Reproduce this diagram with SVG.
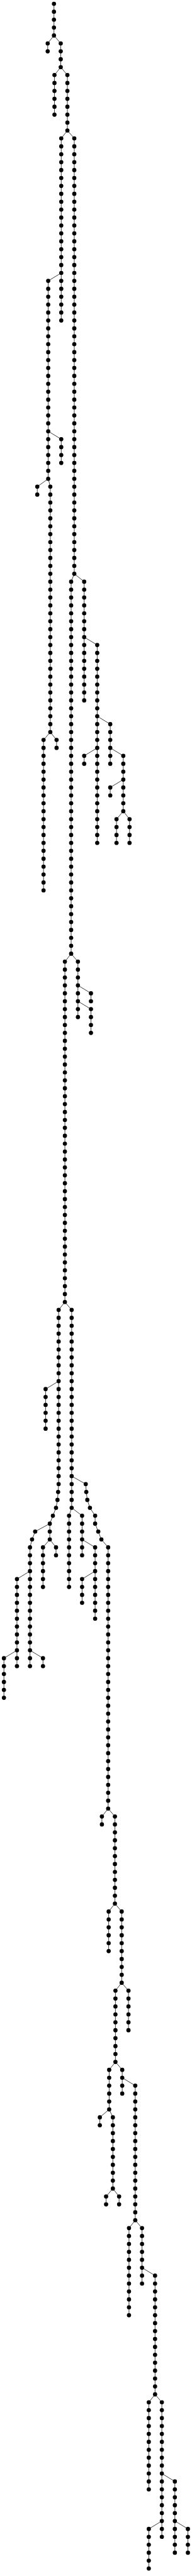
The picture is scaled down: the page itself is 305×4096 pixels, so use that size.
<svg xmlns="http://www.w3.org/2000/svg" width="305" height="4096" viewBox="0 0 305 4096">
<style>
.e path{fill:none;stroke:#111;stroke-width:1.3;stroke-linejoin:round}
.n circle{fill:#000;r:5.3px}
</style>
<rect width="305" height="4096" fill="#fff"/>
<g transform="translate(0 6.086) scale(0.62932)">
<g class="e" id="connectors">
<path d="M136.2 0V80"/>
<path d="M136.2 80L120.4 100V120"/>
<path d="M136.2 80L153.3 100V160"/>
<path d="M153.3 160L137.5 180V280"/>
<path d="M153.3 160L170.1 180V320"/>
<path d="M170.1 320L154.6 340V800"/>
<path d="M170.1 320L187.5 340V1440"/>
<path d="M154.6 680L121.7 700V1200"/>
<path d="M121.7 1080L154.6 1100V1160"/>
<path d="M121.7 1200L94.1 1220V1240"/>
<path d="M121.7 1200L127 1220V1840"/>
<path d="M127 1840L109.9 1860V2240"/>
<path d="M127 1840L142.8 1860V1880"/>
<path d="M187.5 1440L179.6 1460V2400"/>
<path d="M187.5 1440L212.5 1460V1760"/>
<path d="M212.5 1600L245.4 1620V2120"/>
<path d="M245.4 1800L278.3 1820V1920"/>
<path d="M245.4 1880L212.5 1900V1920"/>
<path d="M278.3 1880L311.2 1900V2040"/>
<path d="M311.2 1960L278.3 1980V2000"/>
<path d="M311.2 2040L294.1 2060V2120"/>
<path d="M311.2 2040L327 2060V2120"/>
<path d="M179.6 2400L163.8 2420V3280"/>
<path d="M179.6 2400L196.7 2420V2560"/>
<path d="M196.7 2480L229.6 2500V2520"/>
<path d="M196.7 2520L229.6 2540V2600"/>
<path d="M163.8 3280L148 3300V3740L146.7 3760L145.1 3780L141.4 3800L133.5 3820L125.7 3840V3880"/>
<path d="M148 3480L115.1 3500V3600"/>
<path d="M125.7 3840L88.8 3860L80.9 3880L75.7 3900V4200"/>
<path d="M125.7 3880L108.5 3900V4000"/>
<path d="M125.7 3880L141.4 3900V3920"/>
<path d="M75.7 3960L42.8 3980V4200"/>
<path d="M75.7 4160L108.5 4180V4200"/>
<path d="M42.8 4160L9.9 4180V4280"/>
<path d="M163.8 3280L180.9 3300V3800"/>
<path d="M180.9 3720L216.4 3740L217.8 3760L220.4 3780L227 3800L240.1 3820V3840L248 3860L255.9 3880L273 3900V4560"/>
<path d="M180.9 3800L174.3 3820V4000"/>
<path d="M180.9 3800L207.2 3820V3920"/>
<path d="M207.2 3880L240.1 3900V4080"/>
<path d="M240.1 3960L207.2 3980V4040"/>
<path d="M273 4560L257.2 4580V4600"/>
<path d="M273 4560L290.1 4580V4800"/>
<path d="M290.1 4800L274.3 4820V4920"/>
<path d="M290.1 4800L307.2 4820V5000"/>
<path d="M307.2 5000L291.4 5020V5200"/>
<path d="M307.2 5000L324.3 5020V5120"/>
<path d="M291.4 5200L275.6 5220V5320"/>
<path d="M291.4 5200L308.5 5220V5280"/>
<path d="M308.5 5240L341.4 5260V5600"/>
<path d="M275.6 5320L252 5340V5360"/>
<path d="M275.6 5320L284.9 5340V5520"/>
<path d="M284.9 5520L267.8 5540V5560"/>
<path d="M284.9 5520L300.6 5540V5560"/>
<path d="M341.4 5600L325.6 5620V5840"/>
<path d="M341.4 5600L358.5 5620V5760"/>
<path d="M358.5 5720L391.4 5740V6040"/>
<path d="M391.4 6040L375.6 6060V6280"/>
<path d="M391.4 6040L408.5 6060V6400"/>
<path d="M408.5 6240L441.4 6260V6440"/>
<path d="M408.5 6360L375.6 6380V6480"/>
<path d="M441.4 6360L474.3 6380V6440"/>
</g>
<g class="n" id="nodes">
<g transform="translate(136.2 0)"><g id="A_0"><circle cy="0"/></g><g id="A_1"><circle cy="20"/></g><g id="A_2"><circle cy="40"/></g><g id="A_3"><circle cy="60"/></g><g id="A_4"><circle cy="80"/></g></g>
<g transform="translate(120.4 0)"><g id="A1_5"><circle cy="100"/></g><g id="A1_6"><circle cy="120"/></g></g>
<g transform="translate(153.3 0)"><g id="A2_5"><circle cy="100"/></g><g id="A2_6"><circle cy="120"/></g><g id="A2_7"><circle cy="140"/></g><g id="A2_8"><circle cy="160"/></g></g>
<g transform="translate(137.5 0)"><g id="B1_9"><circle cy="180"/></g><g id="B1_10"><circle cy="200"/></g><g id="B1_11"><circle cy="220"/></g><g id="B1_12"><circle cy="240"/></g><g id="B1_13"><circle cy="260"/></g><g id="B1_14"><circle cy="280"/></g></g>
<g transform="translate(170.1 0)"><g id="B2_9"><circle cy="180"/></g><g id="B2_10"><circle cy="200"/></g><g id="B2_11"><circle cy="220"/></g><g id="B2_12"><circle cy="240"/></g><g id="B2_13"><circle cy="260"/></g><g id="B2_14"><circle cy="280"/></g><g id="B2_15"><circle cy="300"/></g><g id="B2_16"><circle cy="320"/></g></g>
<g transform="translate(154.6 0)"><g id="C1_17"><circle cy="340"/></g><g id="C1_18"><circle cy="360"/></g><g id="C1_19"><circle cy="380"/></g><g id="C1_20"><circle cy="400"/></g><g id="C1_21"><circle cy="420"/></g><g id="C1_22"><circle cy="440"/></g><g id="C1_23"><circle cy="460"/></g><g id="C1_24"><circle cy="480"/></g><g id="C1_25"><circle cy="500"/></g><g id="C1_26"><circle cy="520"/></g><g id="C1_27"><circle cy="540"/></g><g id="C1_28"><circle cy="560"/></g><g id="C1_29"><circle cy="580"/></g><g id="C1_30"><circle cy="600"/></g><g id="C1_31"><circle cy="620"/></g><g id="C1_32"><circle cy="640"/></g><g id="C1_33"><circle cy="660"/></g><g id="C1_34"><circle cy="680"/></g><g id="C1_35"><circle cy="700"/></g><g id="C1_36"><circle cy="720"/></g><g id="C1_37"><circle cy="740"/></g><g id="C1_38"><circle cy="760"/></g><g id="C1_39"><circle cy="780"/></g><g id="C1_40"><circle cy="800"/></g></g>
<g transform="translate(187.5 0)"><g id="C2_17"><circle cy="340"/></g><g id="C2_18"><circle cy="360"/></g><g id="C2_19"><circle cy="380"/></g><g id="C2_20"><circle cy="400"/></g><g id="C2_21"><circle cy="420"/></g><g id="C2_22"><circle cy="440"/></g><g id="C2_23"><circle cy="460"/></g><g id="C2_24"><circle cy="480"/></g><g id="C2_25"><circle cy="500"/></g><g id="C2_26"><circle cy="520"/></g><g id="C2_27"><circle cy="540"/></g><g id="C2_28"><circle cy="560"/></g><g id="C2_29"><circle cy="580"/></g><g id="C2_30"><circle cy="600"/></g><g id="C2_31"><circle cy="620"/></g><g id="C2_32"><circle cy="640"/></g><g id="C2_33"><circle cy="660"/></g><g id="C2_34"><circle cy="680"/></g><g id="C2_35"><circle cy="700"/></g><g id="C2_36"><circle cy="720"/></g><g id="C2_37"><circle cy="740"/></g><g id="C2_38"><circle cy="760"/></g><g id="C2_39"><circle cy="780"/></g><g id="C2_40"><circle cy="800"/></g><g id="C2_41"><circle cy="820"/></g><g id="C2_42"><circle cy="840"/></g><g id="C2_43"><circle cy="860"/></g><g id="C2_44"><circle cy="880"/></g><g id="C2_45"><circle cy="900"/></g><g id="C2_46"><circle cy="920"/></g><g id="C2_47"><circle cy="940"/></g><g id="C2_48"><circle cy="960"/></g><g id="C2_49"><circle cy="980"/></g><g id="C2_50"><circle cy="1000"/></g><g id="C2_51"><circle cy="1020"/></g><g id="C2_52"><circle cy="1040"/></g><g id="C2_53"><circle cy="1060"/></g><g id="C2_54"><circle cy="1080"/></g><g id="C2_55"><circle cy="1100"/></g><g id="C2_56"><circle cy="1120"/></g><g id="C2_57"><circle cy="1140"/></g><g id="C2_58"><circle cy="1160"/></g><g id="C2_59"><circle cy="1180"/></g><g id="C2_60"><circle cy="1200"/></g><g id="C2_61"><circle cy="1220"/></g><g id="C2_62"><circle cy="1240"/></g><g id="C2_63"><circle cy="1260"/></g><g id="C2_64"><circle cy="1280"/></g><g id="C2_65"><circle cy="1300"/></g><g id="C2_66"><circle cy="1320"/></g><g id="C2_67"><circle cy="1340"/></g><g id="C2_68"><circle cy="1360"/></g><g id="C2_69"><circle cy="1380"/></g><g id="C2_70"><circle cy="1400"/></g><g id="C2_71"><circle cy="1420"/></g><g id="C2_72"><circle cy="1440"/></g></g>
<g transform="translate(121.7 0)"><g id="D_35"><circle cy="700"/></g><g id="D_36"><circle cy="720"/></g><g id="D_37"><circle cy="740"/></g><g id="D_38"><circle cy="760"/></g><g id="D_39"><circle cy="780"/></g><g id="D_40"><circle cy="800"/></g><g id="D_41"><circle cy="820"/></g><g id="D_42"><circle cy="840"/></g><g id="D_43"><circle cy="860"/></g><g id="D_44"><circle cy="880"/></g><g id="D_45"><circle cy="900"/></g><g id="D_46"><circle cy="920"/></g><g id="D_47"><circle cy="940"/></g><g id="D_48"><circle cy="960"/></g><g id="D_49"><circle cy="980"/></g><g id="D_50"><circle cy="1000"/></g><g id="D_51"><circle cy="1020"/></g><g id="D_52"><circle cy="1040"/></g><g id="D_53"><circle cy="1060"/></g><g id="D_54"><circle cy="1080"/></g><g id="D_55"><circle cy="1100"/></g><g id="D_56"><circle cy="1120"/></g><g id="D_57"><circle cy="1140"/></g><g id="D_58"><circle cy="1160"/></g><g id="D_59"><circle cy="1180"/></g><g id="D_60"><circle cy="1200"/></g></g>
<g transform="translate(154.6 0)"><g id="F_55"><circle cy="1100"/></g><g id="F_56"><circle cy="1120"/></g><g id="F_57"><circle cy="1140"/></g><g id="F_58"><circle cy="1160"/></g></g>
<g transform="translate(94.1 0)"><g id="G1_61"><circle cy="1220"/></g><g id="G1_62"><circle cy="1240"/></g></g>
<g transform="translate(127 0)"><g id="G2_61"><circle cy="1220"/></g><g id="G2_62"><circle cy="1240"/></g><g id="G2_63"><circle cy="1260"/></g><g id="G2_64"><circle cy="1280"/></g><g id="G2_65"><circle cy="1300"/></g><g id="G2_66"><circle cy="1320"/></g><g id="G2_67"><circle cy="1340"/></g><g id="G2_68"><circle cy="1360"/></g><g id="G2_69"><circle cy="1380"/></g><g id="G2_70"><circle cy="1400"/></g><g id="G2_71"><circle cy="1420"/></g><g id="G2_72"><circle cy="1440"/></g><g id="G2_73"><circle cy="1460"/></g><g id="G2_74"><circle cy="1480"/></g><g id="G2_75"><circle cy="1500"/></g><g id="G2_76"><circle cy="1520"/></g><g id="G2_77"><circle cy="1540"/></g><g id="G2_78"><circle cy="1560"/></g><g id="G2_79"><circle cy="1580"/></g><g id="G2_80"><circle cy="1600"/></g><g id="G2_81"><circle cy="1620"/></g><g id="G2_82"><circle cy="1640"/></g><g id="G2_83"><circle cy="1660"/></g><g id="G2_84"><circle cy="1680"/></g><g id="G2_85"><circle cy="1700"/></g><g id="G2_86"><circle cy="1720"/></g><g id="G2_87"><circle cy="1740"/></g><g id="G2_88"><circle cy="1760"/></g><g id="G2_89"><circle cy="1780"/></g><g id="G2_90"><circle cy="1800"/></g><g id="G2_91"><circle cy="1820"/></g><g id="G2_92"><circle cy="1840"/></g></g>
<g transform="translate(109.9 0)"><g id="H1_93"><circle cy="1860"/></g><g id="H1_94"><circle cy="1880"/></g><g id="H1_95"><circle cy="1900"/></g><g id="H1_96"><circle cy="1920"/></g><g id="H1_97"><circle cy="1940"/></g><g id="H1_98"><circle cy="1960"/></g><g id="H1_99"><circle cy="1980"/></g><g id="H1_100"><circle cy="2000"/></g><g id="H1_101"><circle cy="2020"/></g><g id="H1_102"><circle cy="2040"/></g><g id="H1_103"><circle cy="2060"/></g><g id="H1_104"><circle cy="2080"/></g><g id="H1_105"><circle cy="2100"/></g><g id="H1_106"><circle cy="2120"/></g><g id="H1_107"><circle cy="2140"/></g><g id="H1_108"><circle cy="2160"/></g><g id="H1_109"><circle cy="2180"/></g><g id="H1_110"><circle cy="2200"/></g><g id="H1_111"><circle cy="2220"/></g><g id="H1_112"><circle cy="2240"/></g></g>
<g transform="translate(142.8 0)"><g id="H2_93"><circle cy="1860"/></g><g id="H2_94"><circle cy="1880"/></g></g>
<g transform="translate(179.6 0)"><g id="E1_73"><circle cy="1460"/></g><g id="E1_74"><circle cy="1480"/></g><g id="E1_75"><circle cy="1500"/></g><g id="E1_76"><circle cy="1520"/></g><g id="E1_77"><circle cy="1540"/></g><g id="E1_78"><circle cy="1560"/></g><g id="E1_79"><circle cy="1580"/></g><g id="E1_80"><circle cy="1600"/></g><g id="E1_81"><circle cy="1620"/></g><g id="E1_82"><circle cy="1640"/></g><g id="E1_83"><circle cy="1660"/></g><g id="E1_84"><circle cy="1680"/></g><g id="E1_85"><circle cy="1700"/></g><g id="E1_86"><circle cy="1720"/></g><g id="E1_87"><circle cy="1740"/></g><g id="E1_88"><circle cy="1760"/></g><g id="E1_89"><circle cy="1780"/></g><g id="E1_90"><circle cy="1800"/></g><g id="E1_91"><circle cy="1820"/></g><g id="E1_92"><circle cy="1840"/></g><g id="E1_93"><circle cy="1860"/></g><g id="E1_94"><circle cy="1880"/></g><g id="E1_95"><circle cy="1900"/></g><g id="E1_96"><circle cy="1920"/></g><g id="E1_97"><circle cy="1940"/></g><g id="E1_98"><circle cy="1960"/></g><g id="E1_99"><circle cy="1980"/></g><g id="E1_100"><circle cy="2000"/></g><g id="E1_101"><circle cy="2020"/></g><g id="E1_102"><circle cy="2040"/></g><g id="E1_103"><circle cy="2060"/></g><g id="E1_104"><circle cy="2080"/></g><g id="E1_105"><circle cy="2100"/></g><g id="E1_106"><circle cy="2120"/></g><g id="E1_107"><circle cy="2140"/></g><g id="E1_108"><circle cy="2160"/></g><g id="E1_109"><circle cy="2180"/></g><g id="E1_110"><circle cy="2200"/></g><g id="E1_111"><circle cy="2220"/></g><g id="E1_112"><circle cy="2240"/></g><g id="E1_113"><circle cy="2260"/></g><g id="E1_114"><circle cy="2280"/></g><g id="E1_115"><circle cy="2300"/></g><g id="E1_116"><circle cy="2320"/></g><g id="E1_117"><circle cy="2340"/></g><g id="E1_118"><circle cy="2360"/></g><g id="E1_119"><circle cy="2380"/></g><g id="E1_120"><circle cy="2400"/></g></g>
<g transform="translate(212.5 0)"><g id="E2_73"><circle cy="1460"/></g><g id="E2_74"><circle cy="1480"/></g><g id="E2_75"><circle cy="1500"/></g><g id="E2_76"><circle cy="1520"/></g><g id="E2_77"><circle cy="1540"/></g><g id="E2_78"><circle cy="1560"/></g><g id="E2_79"><circle cy="1580"/></g><g id="E2_80"><circle cy="1600"/></g><g id="E2_81"><circle cy="1620"/></g><g id="E2_82"><circle cy="1640"/></g><g id="E2_83"><circle cy="1660"/></g><g id="E2_84"><circle cy="1680"/></g><g id="E2_85"><circle cy="1700"/></g><g id="E2_86"><circle cy="1720"/></g><g id="E2_87"><circle cy="1740"/></g><g id="E2_88"><circle cy="1760"/></g></g>
<g transform="translate(245.4 0)"><g id="I_81"><circle cy="1620"/></g><g id="I_82"><circle cy="1640"/></g><g id="I_83"><circle cy="1660"/></g><g id="I_84"><circle cy="1680"/></g><g id="I_85"><circle cy="1700"/></g><g id="I_86"><circle cy="1720"/></g><g id="I_87"><circle cy="1740"/></g><g id="I_88"><circle cy="1760"/></g><g id="I_89"><circle cy="1780"/></g><g id="I_90"><circle cy="1800"/></g><g id="I_91"><circle cy="1820"/></g><g id="I_92"><circle cy="1840"/></g><g id="I_93"><circle cy="1860"/></g><g id="I_94"><circle cy="1880"/></g><g id="I_95"><circle cy="1900"/></g><g id="I_96"><circle cy="1920"/></g><g id="I_97"><circle cy="1940"/></g><g id="I_98"><circle cy="1960"/></g><g id="I_99"><circle cy="1980"/></g><g id="I_100"><circle cy="2000"/></g><g id="I_101"><circle cy="2020"/></g><g id="I_102"><circle cy="2040"/></g><g id="I_103"><circle cy="2060"/></g><g id="I_104"><circle cy="2080"/></g><g id="I_105"><circle cy="2100"/></g><g id="I_106"><circle cy="2120"/></g></g>
<g transform="translate(278.3 0)"><g id="J_91"><circle cy="1820"/></g><g id="J_92"><circle cy="1840"/></g><g id="J_93"><circle cy="1860"/></g><g id="J_94"><circle cy="1880"/></g><g id="J_95"><circle cy="1900"/></g><g id="J_96"><circle cy="1920"/></g><g id="M_99"><circle cy="1980"/></g><g id="M_100"><circle cy="2000"/></g></g>
<g transform="translate(212.5 0)"><g id="K_95"><circle cy="1900"/></g><g id="K_96"><circle cy="1920"/></g></g>
<g transform="translate(311.2 0)"><g id="L_95"><circle cy="1900"/></g><g id="L_96"><circle cy="1920"/></g><g id="L_97"><circle cy="1940"/></g><g id="L_98"><circle cy="1960"/></g><g id="L_99"><circle cy="1980"/></g><g id="L_100"><circle cy="2000"/></g><g id="L_101"><circle cy="2020"/></g><g id="L_102"><circle cy="2040"/></g></g>
<g transform="translate(294.1 0)"><g id="N1_103"><circle cy="2060"/></g><g id="N1_104"><circle cy="2080"/></g><g id="N1_105"><circle cy="2100"/></g><g id="N1_106"><circle cy="2120"/></g></g>
<g transform="translate(327 0)"><g id="N2_103"><circle cy="2060"/></g><g id="N2_104"><circle cy="2080"/></g><g id="N2_105"><circle cy="2100"/></g><g id="N2_106"><circle cy="2120"/></g></g>
<g transform="translate(163.8 0)"><g id="O1_121"><circle cy="2420"/></g><g id="O1_122"><circle cy="2440"/></g><g id="O1_123"><circle cy="2460"/></g><g id="O1_124"><circle cy="2480"/></g><g id="O1_125"><circle cy="2500"/></g><g id="O1_126"><circle cy="2520"/></g><g id="O1_127"><circle cy="2540"/></g><g id="O1_128"><circle cy="2560"/></g><g id="O1_129"><circle cy="2580"/></g><g id="O1_130"><circle cy="2600"/></g><g id="O1_131"><circle cy="2620"/></g><g id="O1_132"><circle cy="2640"/></g><g id="O1_133"><circle cy="2660"/></g><g id="O1_134"><circle cy="2680"/></g><g id="O1_135"><circle cy="2700"/></g><g id="O1_136"><circle cy="2720"/></g><g id="O1_137"><circle cy="2740"/></g><g id="O1_138"><circle cy="2760"/></g><g id="O1_139"><circle cy="2780"/></g><g id="O1_140"><circle cy="2800"/></g><g id="O1_141"><circle cy="2820"/></g><g id="O1_142"><circle cy="2840"/></g><g id="O1_143"><circle cy="2860"/></g><g id="O1_144"><circle cy="2880"/></g><g id="O1_145"><circle cy="2900"/></g><g id="O1_146"><circle cy="2920"/></g><g id="O1_147"><circle cy="2940"/></g><g id="O1_148"><circle cy="2960"/></g><g id="O1_149"><circle cy="2980"/></g><g id="O1_150"><circle cy="3000"/></g><g id="O1_151"><circle cy="3020"/></g><g id="O1_152"><circle cy="3040"/></g><g id="O1_153"><circle cy="3060"/></g><g id="O1_154"><circle cy="3080"/></g><g id="O1_155"><circle cy="3100"/></g><g id="O1_156"><circle cy="3120"/></g><g id="O1_157"><circle cy="3140"/></g><g id="O1_158"><circle cy="3160"/></g><g id="O1_159"><circle cy="3180"/></g><g id="O1_160"><circle cy="3200"/></g><g id="O1_161"><circle cy="3220"/></g><g id="O1_162"><circle cy="3240"/></g><g id="O1_163"><circle cy="3260"/></g><g id="O1_164"><circle cy="3280"/></g></g>
<g transform="translate(196.7 0)"><g id="O2_121"><circle cy="2420"/></g><g id="O2_122"><circle cy="2440"/></g><g id="O2_123"><circle cy="2460"/></g><g id="O2_124"><circle cy="2480"/></g><g id="O2_125"><circle cy="2500"/></g><g id="O2_126"><circle cy="2520"/></g><g id="O2_127"><circle cy="2540"/></g><g id="O2_128"><circle cy="2560"/></g></g>
<g transform="translate(229.6 0)"><g id="P_125"><circle cy="2500"/></g><g id="P_126"><circle cy="2520"/></g><g id="Q_127"><circle cy="2540"/></g><g id="Q_128"><circle cy="2560"/></g><g id="Q_129"><circle cy="2580"/></g><g id="Q_130"><circle cy="2600"/></g></g>
<g transform="translate(148 0)"><g id="R1_165"><circle cy="3300"/></g><g id="R1_166"><circle cy="3320"/></g><g id="R1_167"><circle cy="3340"/></g><g id="R1_168"><circle cy="3360"/></g><g id="R1_169"><circle cy="3380"/></g><g id="R1_170"><circle cy="3400"/></g><g id="R1_171"><circle cy="3420"/></g><g id="R1_172"><circle cy="3440"/></g><g id="R1_173"><circle cy="3460"/></g><g id="R1_174"><circle cy="3480"/></g><g id="R1_175"><circle cy="3500"/></g><g id="R1_176"><circle cy="3520"/></g><g id="R1_177"><circle cy="3540"/></g><g id="R1_178"><circle cy="3560"/></g><g id="R1_179"><circle cy="3580"/></g><g id="R1_180"><circle cy="3600"/></g><g id="R1_181"><circle cy="3620"/></g><g id="R1_182"><circle cy="3640"/></g><g id="R1_183"><circle cy="3660"/></g><g id="R1_184"><circle cy="3680"/></g><g id="R1_185"><circle cy="3700"/></g><g id="R1_186"><circle cy="3720"/></g><g id="R1_187"><circle cy="3740"/></g></g>
<g><g id="R1_188"><circle cx="146.7" cy="3760"/></g><g id="R1_189"><circle cx="145.1" cy="3780"/></g><g id="R1_190"><circle cx="141.4" cy="3800"/></g><g id="R1_191"><circle cx="133.5" cy="3820"/></g><g id="R1_192"><circle cx="125.7" cy="3840"/></g><g id="R1_193"><circle cx="125.7" cy="3860"/></g><g id="R1_194"><circle cx="125.7" cy="3880"/></g><g id="S_193"><circle cx="88.8" cy="3860"/></g><g id="S_194"><circle cx="80.9" cy="3880"/></g></g>
<g transform="translate(115.1 0)"><g id="U_175"><circle cy="3500"/></g><g id="U_176"><circle cy="3520"/></g><g id="U_177"><circle cy="3540"/></g><g id="U_178"><circle cy="3560"/></g><g id="U_179"><circle cy="3580"/></g><g id="U_180"><circle cy="3600"/></g></g>
<g transform="translate(75.7 0)"><g id="S_195"><circle cy="3900"/></g><g id="S_196"><circle cy="3920"/></g><g id="S_197"><circle cy="3940"/></g><g id="S_198"><circle cy="3960"/></g><g id="S_199"><circle cy="3980"/></g><g id="S_200"><circle cy="4000"/></g><g id="S_201"><circle cy="4020"/></g><g id="S_202"><circle cy="4040"/></g><g id="S_203"><circle cy="4060"/></g><g id="S_204"><circle cy="4080"/></g><g id="S_205"><circle cy="4100"/></g><g id="S_206"><circle cy="4120"/></g><g id="S_207"><circle cy="4140"/></g><g id="S_208"><circle cy="4160"/></g><g id="S_209"><circle cy="4180"/></g><g id="S_210"><circle cy="4200"/></g></g>
<g transform="translate(108.5 0)"><g id="T1_195"><circle cy="3900"/></g><g id="T1_196"><circle cy="3920"/></g><g id="T1_197"><circle cy="3940"/></g><g id="T1_198"><circle cy="3960"/></g><g id="T1_199"><circle cy="3980"/></g><g id="T1_200"><circle cy="4000"/></g><g id="W_209"><circle cy="4180"/></g><g id="W_210"><circle cy="4200"/></g></g>
<g transform="translate(141.4 0)"><g id="T2_195"><circle cy="3900"/></g><g id="T2_196"><circle cy="3920"/></g></g>
<g transform="translate(42.8 0)"><g id="V_199"><circle cy="3980"/></g><g id="V_200"><circle cy="4000"/></g><g id="V_201"><circle cy="4020"/></g><g id="V_202"><circle cy="4040"/></g><g id="V_203"><circle cy="4060"/></g><g id="V_204"><circle cy="4080"/></g><g id="V_205"><circle cy="4100"/></g><g id="V_206"><circle cy="4120"/></g><g id="V_207"><circle cy="4140"/></g><g id="V_208"><circle cy="4160"/></g><g id="V_209"><circle cy="4180"/></g><g id="V_210"><circle cy="4200"/></g></g>
<g transform="translate(9.9 0)"><g id="X_209"><circle cy="4180"/></g><g id="X_210"><circle cy="4200"/></g><g id="X_211"><circle cy="4220"/></g><g id="X_212"><circle cy="4240"/></g><g id="X_213"><circle cy="4260"/></g><g id="X_214"><circle cy="4280"/></g></g>
<g transform="translate(180.9 0)"><g id="R2_165"><circle cy="3300"/></g><g id="R2_166"><circle cy="3320"/></g><g id="R2_167"><circle cy="3340"/></g><g id="R2_168"><circle cy="3360"/></g><g id="R2_169"><circle cy="3380"/></g><g id="R2_170"><circle cy="3400"/></g><g id="R2_171"><circle cy="3420"/></g><g id="R2_172"><circle cy="3440"/></g><g id="R2_173"><circle cy="3460"/></g><g id="R2_174"><circle cy="3480"/></g><g id="R2_175"><circle cy="3500"/></g><g id="R2_176"><circle cy="3520"/></g><g id="R2_177"><circle cy="3540"/></g><g id="R2_178"><circle cy="3560"/></g><g id="R2_179"><circle cy="3580"/></g><g id="R2_180"><circle cy="3600"/></g><g id="R2_181"><circle cy="3620"/></g><g id="R2_182"><circle cy="3640"/></g><g id="R2_183"><circle cy="3660"/></g><g id="R2_184"><circle cy="3680"/></g><g id="R2_185"><circle cy="3700"/></g><g id="R2_186"><circle cy="3720"/></g><g id="R2_187"><circle cy="3740"/></g><g id="R2_188"><circle cy="3760"/></g><g id="R2_189"><circle cy="3780"/></g><g id="R2_190"><circle cy="3800"/></g></g>
<g><g id="Y_187"><circle cx="216.4" cy="3740"/></g><g id="Y_188"><circle cx="217.8" cy="3760"/></g><g id="Y_189"><circle cx="220.4" cy="3780"/></g><g id="Y_190"><circle cx="227" cy="3800"/></g><g id="Y_191"><circle cx="240.1" cy="3820"/></g><g id="Y_192"><circle cx="240.1" cy="3840"/></g><g id="Y_193"><circle cx="248" cy="3860"/></g><g id="Y_194"><circle cx="255.9" cy="3880"/></g></g>
<g transform="translate(273 0)"><g id="Y_195"><circle cy="3900"/></g><g id="Y_196"><circle cy="3920"/></g><g id="Y_197"><circle cy="3940"/></g><g id="Y_198"><circle cy="3960"/></g><g id="Y_199"><circle cy="3980"/></g><g id="Y_200"><circle cy="4000"/></g><g id="Y_201"><circle cy="4020"/></g><g id="Y_202"><circle cy="4040"/></g><g id="Y_203"><circle cy="4060"/></g><g id="Y_204"><circle cy="4080"/></g><g id="Y_205"><circle cy="4100"/></g><g id="Y_206"><circle cy="4120"/></g><g id="Y_207"><circle cy="4140"/></g><g id="Y_208"><circle cy="4160"/></g><g id="Y_209"><circle cy="4180"/></g><g id="Y_210"><circle cy="4200"/></g><g id="Y_211"><circle cy="4220"/></g><g id="Y_212"><circle cy="4240"/></g><g id="Y_213"><circle cy="4260"/></g><g id="Y_214"><circle cy="4280"/></g><g id="Y_215"><circle cy="4300"/></g><g id="Y_216"><circle cy="4320"/></g><g id="Y_217"><circle cy="4340"/></g><g id="Y_218"><circle cy="4360"/></g><g id="Y_219"><circle cy="4380"/></g><g id="Y_220"><circle cy="4400"/></g><g id="Y_221"><circle cy="4420"/></g><g id="Y_222"><circle cy="4440"/></g><g id="Y_223"><circle cy="4460"/></g><g id="Y_224"><circle cy="4480"/></g><g id="Y_225"><circle cy="4500"/></g><g id="Y_226"><circle cy="4520"/></g><g id="Y_227"><circle cy="4540"/></g><g id="Y_228"><circle cy="4560"/></g></g>
<g transform="translate(174.3 0)"><g id="Z1_191"><circle cy="3820"/></g><g id="Z1_192"><circle cy="3840"/></g><g id="Z1_193"><circle cy="3860"/></g><g id="Z1_194"><circle cy="3880"/></g><g id="Z1_195"><circle cy="3900"/></g><g id="Z1_196"><circle cy="3920"/></g><g id="Z1_197"><circle cy="3940"/></g><g id="Z1_198"><circle cy="3960"/></g><g id="Z1_199"><circle cy="3980"/></g><g id="Z1_200"><circle cy="4000"/></g></g>
<g transform="translate(207.2 0)"><g id="Z2_191"><circle cy="3820"/></g><g id="Z2_192"><circle cy="3840"/></g><g id="Z2_193"><circle cy="3860"/></g><g id="Z2_194"><circle cy="3880"/></g><g id="Z2_195"><circle cy="3900"/></g><g id="Z2_196"><circle cy="3920"/></g><g id="AB_199"><circle cy="3980"/></g><g id="AB_200"><circle cy="4000"/></g><g id="AB_201"><circle cy="4020"/></g><g id="AB_202"><circle cy="4040"/></g></g>
<g transform="translate(240.1 0)"><g id="AA_195"><circle cy="3900"/></g><g id="AA_196"><circle cy="3920"/></g><g id="AA_197"><circle cy="3940"/></g><g id="AA_198"><circle cy="3960"/></g><g id="AA_199"><circle cy="3980"/></g><g id="AA_200"><circle cy="4000"/></g><g id="AA_201"><circle cy="4020"/></g><g id="AA_202"><circle cy="4040"/></g><g id="AA_203"><circle cy="4060"/></g><g id="AA_204"><circle cy="4080"/></g></g>
<g transform="translate(257.2 0)"><g id="AC1_229"><circle cy="4580"/></g><g id="AC1_230"><circle cy="4600"/></g></g>
<g transform="translate(290.1 0)"><g id="AC2_229"><circle cy="4580"/></g><g id="AC2_230"><circle cy="4600"/></g><g id="AC2_231"><circle cy="4620"/></g><g id="AC2_232"><circle cy="4640"/></g><g id="AC2_233"><circle cy="4660"/></g><g id="AC2_234"><circle cy="4680"/></g><g id="AC2_235"><circle cy="4700"/></g><g id="AC2_236"><circle cy="4720"/></g><g id="AC2_237"><circle cy="4740"/></g><g id="AC2_238"><circle cy="4760"/></g><g id="AC2_239"><circle cy="4780"/></g><g id="AC2_240"><circle cy="4800"/></g></g>
<g transform="translate(274.3 0)"><g id="AD1_241"><circle cy="4820"/></g><g id="AD1_242"><circle cy="4840"/></g><g id="AD1_243"><circle cy="4860"/></g><g id="AD1_244"><circle cy="4880"/></g><g id="AD1_245"><circle cy="4900"/></g><g id="AD1_246"><circle cy="4920"/></g></g>
<g transform="translate(307.2 0)"><g id="AD2_241"><circle cy="4820"/></g><g id="AD2_242"><circle cy="4840"/></g><g id="AD2_243"><circle cy="4860"/></g><g id="AD2_244"><circle cy="4880"/></g><g id="AD2_245"><circle cy="4900"/></g><g id="AD2_246"><circle cy="4920"/></g><g id="AD2_247"><circle cy="4940"/></g><g id="AD2_248"><circle cy="4960"/></g><g id="AD2_249"><circle cy="4980"/></g><g id="AD2_250"><circle cy="5000"/></g></g>
<g transform="translate(291.4 0)"><g id="AE1_251"><circle cy="5020"/></g><g id="AE1_252"><circle cy="5040"/></g><g id="AE1_253"><circle cy="5060"/></g><g id="AE1_254"><circle cy="5080"/></g><g id="AE1_255"><circle cy="5100"/></g><g id="AE1_256"><circle cy="5120"/></g><g id="AE1_257"><circle cy="5140"/></g><g id="AE1_258"><circle cy="5160"/></g><g id="AE1_259"><circle cy="5180"/></g><g id="AE1_260"><circle cy="5200"/></g></g>
<g transform="translate(324.3 0)"><g id="AE2_251"><circle cy="5020"/></g><g id="AE2_252"><circle cy="5040"/></g><g id="AE2_253"><circle cy="5060"/></g><g id="AE2_254"><circle cy="5080"/></g><g id="AE2_255"><circle cy="5100"/></g><g id="AE2_256"><circle cy="5120"/></g></g>
<g transform="translate(275.6 0)"><g id="AF1_261"><circle cy="5220"/></g><g id="AF1_262"><circle cy="5240"/></g><g id="AF1_263"><circle cy="5260"/></g><g id="AF1_264"><circle cy="5280"/></g><g id="AF1_265"><circle cy="5300"/></g><g id="AF1_266"><circle cy="5320"/></g></g>
<g transform="translate(308.5 0)"><g id="AF2_261"><circle cy="5220"/></g><g id="AF2_262"><circle cy="5240"/></g><g id="AF2_263"><circle cy="5260"/></g><g id="AF2_264"><circle cy="5280"/></g></g>
<g transform="translate(341.4 0)"><g id="AG_263"><circle cy="5260"/></g><g id="AG_264"><circle cy="5280"/></g><g id="AG_265"><circle cy="5300"/></g><g id="AG_266"><circle cy="5320"/></g><g id="AG_267"><circle cy="5340"/></g><g id="AG_268"><circle cy="5360"/></g><g id="AG_269"><circle cy="5380"/></g><g id="AG_270"><circle cy="5400"/></g><g id="AG_271"><circle cy="5420"/></g><g id="AG_272"><circle cy="5440"/></g><g id="AG_273"><circle cy="5460"/></g><g id="AG_274"><circle cy="5480"/></g><g id="AG_275"><circle cy="5500"/></g><g id="AG_276"><circle cy="5520"/></g><g id="AG_277"><circle cy="5540"/></g><g id="AG_278"><circle cy="5560"/></g><g id="AG_279"><circle cy="5580"/></g><g id="AG_280"><circle cy="5600"/></g></g>
<g transform="translate(252 0)"><g id="AH1_267"><circle cy="5340"/></g><g id="AH1_268"><circle cy="5360"/></g></g>
<g transform="translate(284.9 0)"><g id="AH2_267"><circle cy="5340"/></g><g id="AH2_268"><circle cy="5360"/></g><g id="AH2_269"><circle cy="5380"/></g><g id="AH2_270"><circle cy="5400"/></g><g id="AH2_271"><circle cy="5420"/></g><g id="AH2_272"><circle cy="5440"/></g><g id="AH2_273"><circle cy="5460"/></g><g id="AH2_274"><circle cy="5480"/></g><g id="AH2_275"><circle cy="5500"/></g><g id="AH2_276"><circle cy="5520"/></g></g>
<g transform="translate(267.8 0)"><g id="AI1_277"><circle cy="5540"/></g><g id="AI1_278"><circle cy="5560"/></g></g>
<g transform="translate(300.6 0)"><g id="AI2_277"><circle cy="5540"/></g><g id="AI2_278"><circle cy="5560"/></g></g>
<g transform="translate(325.6 0)"><g id="AJ1_281"><circle cy="5620"/></g><g id="AJ1_282"><circle cy="5640"/></g><g id="AJ1_283"><circle cy="5660"/></g><g id="AJ1_284"><circle cy="5680"/></g><g id="AJ1_285"><circle cy="5700"/></g><g id="AJ1_286"><circle cy="5720"/></g><g id="AJ1_287"><circle cy="5740"/></g><g id="AJ1_288"><circle cy="5760"/></g><g id="AJ1_289"><circle cy="5780"/></g><g id="AJ1_290"><circle cy="5800"/></g><g id="AJ1_291"><circle cy="5820"/></g><g id="AJ1_292"><circle cy="5840"/></g></g>
<g transform="translate(358.5 0)"><g id="AJ2_281"><circle cy="5620"/></g><g id="AJ2_282"><circle cy="5640"/></g><g id="AJ2_283"><circle cy="5660"/></g><g id="AJ2_284"><circle cy="5680"/></g><g id="AJ2_285"><circle cy="5700"/></g><g id="AJ2_286"><circle cy="5720"/></g><g id="AJ2_287"><circle cy="5740"/></g><g id="AJ2_288"><circle cy="5760"/></g></g>
<g transform="translate(391.4 0)"><g id="AK_287"><circle cy="5740"/></g><g id="AK_288"><circle cy="5760"/></g><g id="AK_289"><circle cy="5780"/></g><g id="AK_290"><circle cy="5800"/></g><g id="AK_291"><circle cy="5820"/></g><g id="AK_292"><circle cy="5840"/></g><g id="AK_293"><circle cy="5860"/></g><g id="AK_294"><circle cy="5880"/></g><g id="AK_295"><circle cy="5900"/></g><g id="AK_296"><circle cy="5920"/></g><g id="AK_297"><circle cy="5940"/></g><g id="AK_298"><circle cy="5960"/></g><g id="AK_299"><circle cy="5980"/></g><g id="AK_300"><circle cy="6000"/></g><g id="AK_301"><circle cy="6020"/></g><g id="AK_302"><circle cy="6040"/></g></g>
<g transform="translate(375.6 0)"><g id="AL1_303"><circle cy="6060"/></g><g id="AL1_304"><circle cy="6080"/></g><g id="AL1_305"><circle cy="6100"/></g><g id="AL1_306"><circle cy="6120"/></g><g id="AL1_307"><circle cy="6140"/></g><g id="AL1_308"><circle cy="6160"/></g><g id="AL1_309"><circle cy="6180"/></g><g id="AL1_310"><circle cy="6200"/></g><g id="AL1_311"><circle cy="6220"/></g><g id="AL1_312"><circle cy="6240"/></g><g id="AL1_313"><circle cy="6260"/></g><g id="AL1_314"><circle cy="6280"/></g><g id="AN_319"><circle cy="6380"/></g><g id="AN_320"><circle cy="6400"/></g><g id="AN_321"><circle cy="6420"/></g><g id="AN_322"><circle cy="6440"/></g><g id="AN_323"><circle cy="6460"/></g><g id="AN_324"><circle cy="6480"/></g></g>
<g transform="translate(408.5 0)"><g id="AL2_303"><circle cy="6060"/></g><g id="AL2_304"><circle cy="6080"/></g><g id="AL2_305"><circle cy="6100"/></g><g id="AL2_306"><circle cy="6120"/></g><g id="AL2_307"><circle cy="6140"/></g><g id="AL2_308"><circle cy="6160"/></g><g id="AL2_309"><circle cy="6180"/></g><g id="AL2_310"><circle cy="6200"/></g><g id="AL2_311"><circle cy="6220"/></g><g id="AL2_312"><circle cy="6240"/></g><g id="AL2_313"><circle cy="6260"/></g><g id="AL2_314"><circle cy="6280"/></g><g id="AL2_315"><circle cy="6300"/></g><g id="AL2_316"><circle cy="6320"/></g><g id="AL2_317"><circle cy="6340"/></g><g id="AL2_318"><circle cy="6360"/></g><g id="AL2_319"><circle cy="6380"/></g><g id="AL2_320"><circle cy="6400"/></g></g>
<g transform="translate(441.4 0)"><g id="AM_313"><circle cy="6260"/></g><g id="AM_314"><circle cy="6280"/></g><g id="AM_315"><circle cy="6300"/></g><g id="AM_316"><circle cy="6320"/></g><g id="AM_317"><circle cy="6340"/></g><g id="AM_318"><circle cy="6360"/></g><g id="AM_319"><circle cy="6380"/></g><g id="AM_320"><circle cy="6400"/></g><g id="AM_321"><circle cy="6420"/></g><g id="AM_322"><circle cy="6440"/></g></g>
<g transform="translate(474.3 0)"><g id="AO_319"><circle cy="6380"/></g><g id="AO_320"><circle cy="6400"/></g><g id="AO_321"><circle cy="6420"/></g><g id="AO_322"><circle cy="6440"/></g></g>
</g>
</g>
</svg>
